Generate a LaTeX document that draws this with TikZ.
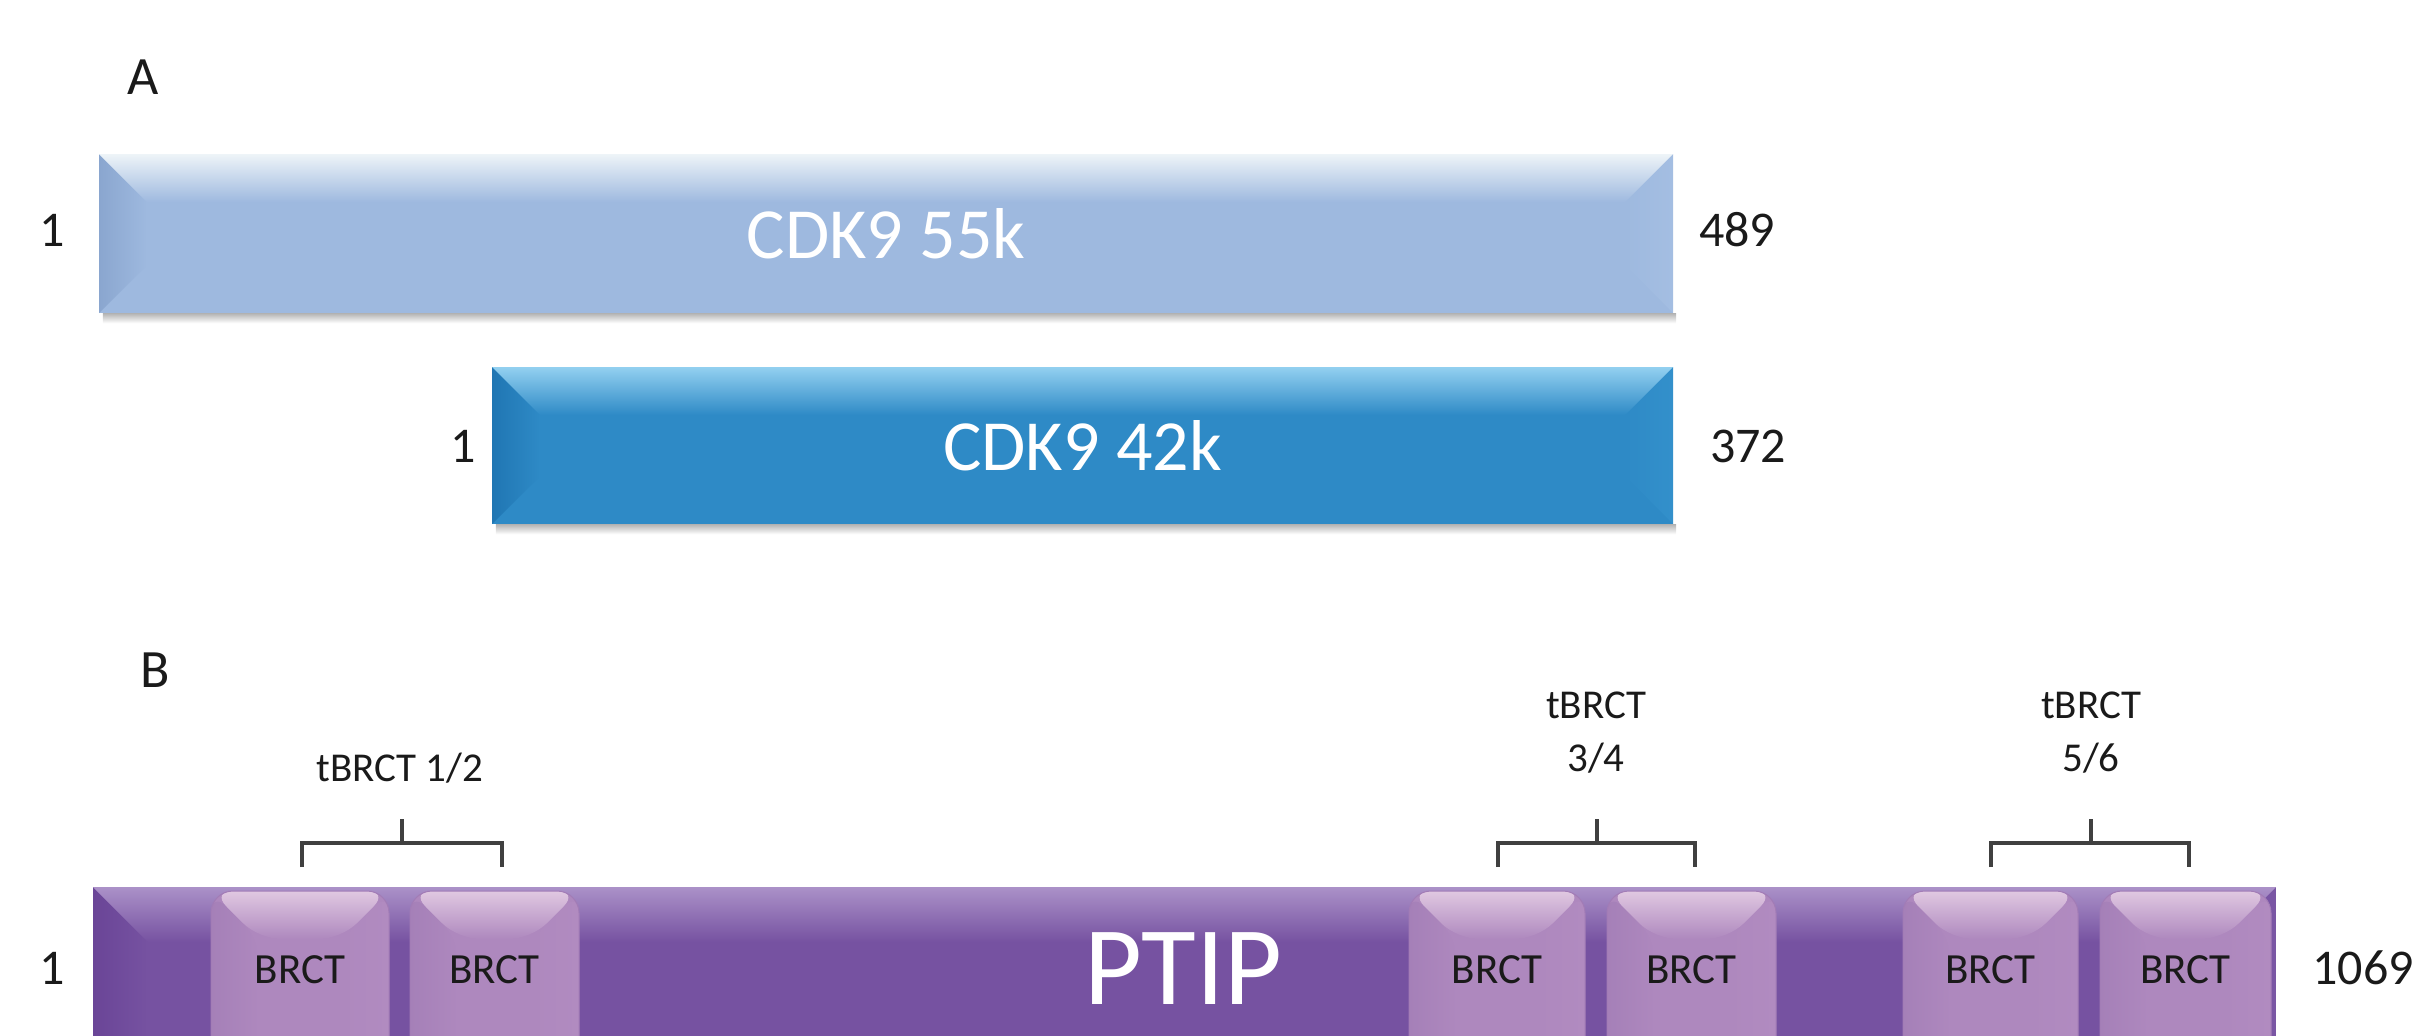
\documentclass[tikz,border=0pt]{standalone}
\usepackage{fontspec}
\setmainfont{Carlito}
\usetikzlibrary{calc}

\definecolor{cA}{HTML}{9EB9DF}
\definecolor{cAt}{HTML}{EEF4F8}
\definecolor{cAl}{HTML}{8AA6CF}
\definecolor{cAr}{HTML}{A4BEE2}
\definecolor{cB}{HTML}{2E8AC6}
\definecolor{cBt}{HTML}{93D0F0}
\definecolor{cBl}{HTML}{2076B3}
\definecolor{cBr}{HTML}{3390CB}
\definecolor{cP}{HTML}{7652A1}
\definecolor{cPt}{HTML}{AB91C8}
\definecolor{cPl}{HTML}{6A4597}
\definecolor{cPr}{HTML}{7A56A4}
\definecolor{cR}{HTML}{AE88BE}
\definecolor{cRt}{HTML}{E0C8E1}
\definecolor{cRl}{HTML}{A580B8}
\definecolor{cRr}{HTML}{B18BC0}
\definecolor{cRd}{HTML}{A27CB6}
\definecolor{txt}{HTML}{1A1A1A}

\tikzset{
  bev/.style n args={5}{
    rectangle, inner sep=0pt, fill=#1,
    path picture={
      \path (path picture bounding box.north west) coordinate (pNW)
            (path picture bounding box.north east) coordinate (pNE)
            (path picture bounding box.south west) coordinate (pSW)
            (path picture bounding box.south east) coordinate (pSE);
      \shade[left color=#3, right color=#1] (pNW) -- ($(pNW)+(#5,-#5)$) -- ($(pSW)+(#5,#5)$) -- (pSW) -- cycle;
      \shade[left color=#1, right color=#4] (pNE) -- ($(pNE)+(-#5,-#5)$) -- ($(pSE)+(-#5,#5)$) -- (pSE) -- cycle;
      \shade[top color=#2, bottom color=#1] (pNW) -- (pNE) -- ($(pNE)+(-#5,-#5)$) -- ($(pNW)+(#5,-#5)$) -- cycle;
    }
  },
  bartxt/.style={text=white, font=\fontsize{72}{80}\selectfont},
  numtxt/.style={text=txt, inner sep=0pt, font=\fontsize{50}{60}\selectfont},
  lettxt/.style={text=txt, inner sep=0pt, font=\fontsize{54}{64}\selectfont},
  lbltxt/.style={text=txt, inner sep=0pt, align=center, font=\fontsize{41}{53}\selectfont},
  brctbox/.style={bev={cR}{cRt}{cRl}{cRr}{48pt}, rounded corners=22pt, draw=cRd, line width=1pt,
                  minimum height=200pt},
  brcttxt/.style={text=txt, inner sep=0pt, font=\fontsize{43}{50}\selectfont},
  brk/.style={draw=black!75, line width=3.5pt},
  shadowband/.style={top color=black!30, bottom color=white},
}

\begin{document}
\begin{tikzpicture}[x=1pt,y=-1pt]
\useasboundingbox (0,0) rectangle (2418,1036);
\clip (0,0) rectangle (2418,1036);

% Panel A
\node[lettxt] (labA) at (143,77) {A};

\node[bev={cA}{cAt}{cAl}{cAr}{48pt}, minimum width=1574pt, minimum height=159pt, bartxt]
  (cdk55) at (886,233.5) {CDK9 55k};
\shade[shadowband] ($(cdk55.south west)+(4,0)$) rectangle ($(cdk55.south east)+(3,10)$);
\node[numtxt] (s55) at (52,230) {1};
\node[numtxt] (e55) at (1737,230) {489};

\node[bev={cB}{cBt}{cBl}{cBr}{48pt}, minimum width=1181pt, minimum height=157pt, bartxt]
  (cdk42) at (1082.5,445.5) {CDK9 42k};
\shade[shadowband] ($(cdk42.south west)+(4,0)$) rectangle ($(cdk42.south east)+(3,10)$);
\node[numtxt] (s42) at (463,446) {1};
\node[numtxt] (e42) at (1748,446) {372};

% Panel B
\node[lettxt] (labB) at (155,670) {B};

\node[bev={cP}{cPt}{cPl}{cPr}{55pt}, minimum width=2183pt, minimum height=300pt]
  (ptip) at (1184.5,1037) {};
\node[text=white, inner sep=0pt, font=\fontsize{112}{120}\selectfont] (ptiptxt) at (1183,969) {PTIP};
\node[numtxt] (s1) at (52,968) {1};
\node[numtxt] (e1) at (2363,968) {1069};

% BRCT domains
\foreach \n/\l/\r in {1/211/389, 2/410/579, 3/1409/1585, 4/1607/1776, 5/1903/2078, 6/2100/2271}{
  \node[brctbox, minimum width={\r-\l}] (b\n) at ({(\l+\r)/2},991) {};
  \node[brcttxt] (bt\n) at ($(b\n.north)+(0,79)$) {BRCT};
}

% tandem labels
\node[lbltxt] (t12) at (400,768) {tBRCT 1/2};
\node[lbltxt] (t34) at (1596,733) {tBRCT\\3/4};
\node[lbltxt] (t56) at (2091,733) {tBRCT\\5/6};

% brackets
\coordinate (k1a) at (302,867); \coordinate (k1b) at (502,867); \coordinate (k1h) at (402,843); \coordinate (k1t) at (402,819);
\coordinate (k2a) at (1498,867); \coordinate (k2b) at (1695,867); \coordinate (k2h) at (1597,843); \coordinate (k2t) at (1597,819);
\coordinate (k3a) at (1991,867); \coordinate (k3b) at (2189,867); \coordinate (k3h) at (2091,843); \coordinate (k3t) at (2091,819);
\foreach \k in {1,2,3}{
  \draw[brk] (k\k a) -- (k\k a |- k\k h) -- (k\k b |- k\k h) -- (k\k b);
  \draw[brk] (k\k h) -- (k\k t);
}
\end{tikzpicture}
\end{document}
